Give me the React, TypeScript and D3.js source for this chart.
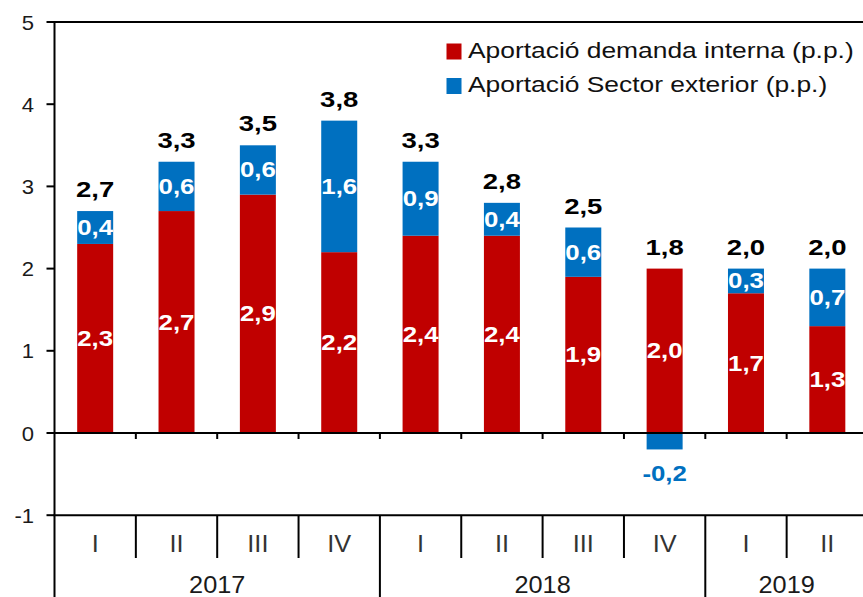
import React, { useRef, useEffect } from 'react';
import * as d3 from 'd3';

const quarters = ['I', 'II', 'III', 'IV', 'I', 'II', 'III', 'IV', 'I', 'II'];
const quarterYears = ['2017', '2017', '2017', '2017', '2018', '2018', '2018', '2018', '2019', '2019'];
const years = ['2017', '2018', '2019'];
const demandaInterna = [2.3, 2.7, 2.9, 2.2, 2.4, 2.4, 1.9, 2.0, 1.7, 1.3];
const sectorExterior = [0.4, 0.6, 0.6, 1.6, 0.9, 0.4, 0.6, -0.2, 0.3, 0.7];
const totals = [2.7, 3.3, 3.5, 3.8, 3.3, 2.8, 2.5, 1.8, 2.0, 2.0];
const yTicks = [-1, 0, 1, 2, 3, 4, 5];
const seriesNames = ['Aportació demanda interna (p.p.)', 'Aportació Sector exterior (p.p.)'];
const colors = ['#C00000', '#0070C0'];

const FONT = 'Arial, "Liberation Sans", sans-serif';

const App = () => {
  const ref = useRef<SVGSVGElement>(null);
  const width = 863;
  const height = 597;

  useEffect(() => {
    const svg = d3.select(ref.current);
    svg.selectAll('*').remove();

    const fmt = (v: number) => d3.format('.1f')(v).replace('.', ',').replace('\u2212', '-');

    const y = d3.scaleLinear().domain([-1, 5]).range([515.2, 22]);
    const x = d3.scaleBand<number>()
      .domain(d3.range(quarters.length))
      .range([54.5, 868])
      .paddingInner(0.5575)
      .paddingOuter(0.5575 / 2);
    const step = x.step();
    const left = 54.5;
    const bound = (i: number) => left + i * step;

    // helper for horizontally stretched text
    const label = (g: any, tx: number, ty: number, txt: string, opts: any) => {
      g.append('text')
        .attr('transform', `translate(${tx},${ty}) scale(${opts.sx || 1},1)`)
        .attr('text-anchor', opts.anchor || 'middle')
        .style('font-family', FONT)
        .style('font-size', `${opts.size}px`)
        .style('font-weight', opts.bold ? 'bold' : 'normal')
        .style('fill', opts.color || '#000')
        .text(txt);
    };

    // bars
    const bars = svg.append('g');
    quarters.forEach((q, i) => {
      const d = demandaInterna[i];
      const e = sectorExterior[i];
      bars.append('rect')
        .attr('x', x(i)!)
        .attr('width', x.bandwidth())
        .attr('y', y(d))
        .attr('height', y(0) - y(d))
        .style('fill', colors[0]);
      const e0 = e >= 0 ? d : 0;
      const e1 = e >= 0 ? d + e : e;
      bars.append('rect')
        .attr('x', x(i)!)
        .attr('width', x.bandwidth())
        .attr('y', y(Math.max(e0, e1)))
        .attr('height', Math.abs(y(e0) - y(e1)))
        .style('fill', colors[1]);
    });

    // axis lines
    const axes = svg.append('g').style('stroke', '#000').style('stroke-width', 2);
    axes.append('line').attr('x1', left - 1).attr('x2', width).attr('y1', y(5)).attr('y2', y(5));
    axes.append('line').attr('x1', left).attr('x2', width).attr('y1', y(0)).attr('y2', y(0));
    axes.append('line').attr('x1', left - 1).attr('x2', width).attr('y1', y(-1)).attr('y2', y(-1));
    axes.append('line').attr('x1', left).attr('x2', left).attr('y1', y(5) - 1).attr('y2', height);
    yTicks.forEach(t => {
      axes.append('line').attr('x1', left - 8).attr('x2', left).attr('y1', y(t)).attr('y2', y(t));
    });
    // ticks on zero line and category separators
    d3.range(1, quarters.length + 1).forEach(i => {
      const bx = bound(i);
      axes.append('line').attr('x1', bx).attr('x2', bx).attr('y1', y(0)).attr('y2', y(0) + 6);
      const yearEnd = i === quarters.length || quarterYears[i] !== quarterYears[i - 1];
      axes.append('line').attr('x1', bx).attr('x2', bx).attr('y1', y(-1)).attr('y2', yearEnd ? height : 558);
    });

    // y tick labels
    const txt = svg.append('g');
    yTicks.forEach(t => {
      label(txt, 34, y(t) + 7.5, String(t), { size: 21, anchor: 'end', color: '#1a1a1a', sx: 1.05 });
    });

    // quarter and year labels
    quarters.forEach((q, i) => {
      label(txt, x(i)! + x.bandwidth() / 2, 552, q, { size: 23, color: '#333', sx: 1.1 });
    });
    years.forEach(yr => {
      const idx = quarterYears.map((v, i) => (v === yr ? i : -1)).filter(i => i >= 0);
      const cx = (bound(idx[0]) + bound(idx[idx.length - 1] + 1)) / 2;
      label(txt, cx, 593, yr, { size: 23, color: '#1a1a1a', sx: 1.1 });
    });

    // value labels
    quarters.forEach((q, i) => {
      const cx = x(i)! + x.bandwidth() / 2;
      const d = demandaInterna[i];
      const e = sectorExterior[i];
      label(txt, cx, (y(0) + y(d)) / 2 + 7.5, fmt(d), { size: 21.5, bold: true, color: '#fff', sx: 1.2 });
      if (e >= 0) {
        label(txt, cx, (y(d) + y(d + e)) / 2 + 7.5, fmt(e), { size: 21.5, bold: true, color: '#fff', sx: 1.2 });
      } else {
        label(txt, cx, y(e) + 32, fmt(e), { size: 21.5, bold: true, color: colors[1], sx: 1.2 });
      }
      const top = Math.max(d, d + e);
      label(txt, cx, y(top) - 14, fmt(totals[i]), { size: 22, bold: true, color: '#000', sx: 1.25 });
    });

    // legend
    const legend = svg.append('g');
    seriesNames.forEach((name, i) => {
      const ly = 51.5 + i * 34.5;
      legend.append('rect')
        .attr('x', 446.5)
        .attr('y', ly - 8)
        .attr('width', 15)
        .attr('height', 16)
        .style('fill', colors[i]);
      label(legend, 468, ly + 6, name, { size: 22, anchor: 'start', color: '#111', sx: 1.2 });
    });
  }, []);

  return (
    <svg
      ref={ref}
      width={width}
      height={height}
      style={{ position: 'absolute', left: 0, top: 0, background: 'white' }}
    />
  );
};

export default App;
